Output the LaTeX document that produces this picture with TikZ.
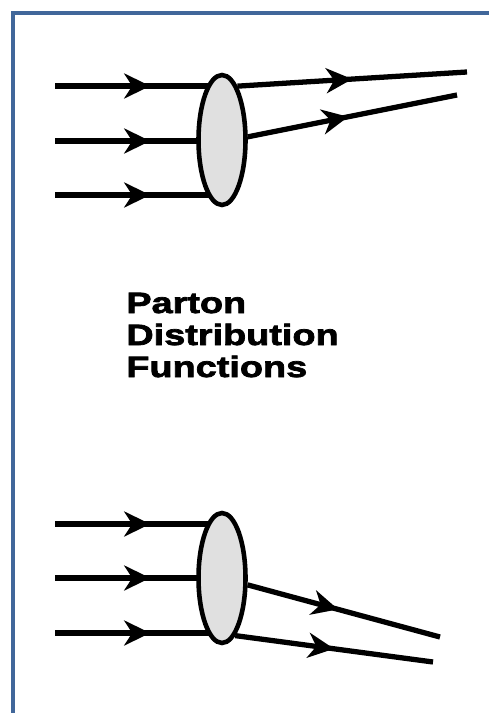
\documentclass[tikz,border=0pt]{standalone}
\usepackage{fontspec}
\newfontfamily\labelfont[FakeStretch=1.29, FakeBold=2.5]{Liberation Sans}
\usetikzlibrary{shapes.geometric, arrows.meta, decorations.markings, backgrounds}

\definecolor{framecol}{HTML}{41679A}
\definecolor{blobgray}{HTML}{E0E0E0}

\tikzset{
  parton/.style={line width=3pt, postaction={decorate},
    decoration={markings, mark=at position #1 with {\arrow{Stealth[length=0.52cm, width=0.5cm, inset=0.16cm]}}}},
  blob/.style={draw, ellipse, fill=blobgray, line width=2.6pt, inner sep=0pt,
    minimum width=0.94cm, minimum height=2.6cm},
  pdftext/.style={font=\labelfont\bfseries\fontsize{16.7}{18}\selectfont, anchor=base west, inner sep=0pt}
}

\begin{document}
\begin{tikzpicture}[x=0.02cm, y=-0.02cm]
  \useasboundingbox (0,0) rectangle (489,713);
  % Cornice
  \draw[framecol, line width=0.08cm] (13,13) rectangle (540,760);

  % Ellissi
  \node[blob] (top) at (222,140) {};
  \node[blob] (bot) at (222,578) {};

  % Estremi
  \coordinate (a1) at (55,86);
  \coordinate (a2) at (55,141);
  \coordinate (a3) at (55,195);
  \coordinate (b1) at (467,72);
  \coordinate (b2) at (457,95);
  \coordinate (c1) at (55,524);
  \coordinate (c2) at (55,578);
  \coordinate (c3) at (55,633);
  \coordinate (d1) at (440,637);
  \coordinate (d2) at (433,662);

  % Linee entranti
  \begin{scope}[on background layer]
    \draw[parton=0.57] (a1) -- (a1 -| top.center);
    \draw[parton=0.57] (a2) -- (a2 -| top.center);
    \draw[parton=0.57] (a3) -- (a3 -| top.center);
    \draw[parton=0.57] (c1) -- (c1 -| bot.center);
    \draw[parton=0.57] (c2) -- (c2 -| bot.center);
    \draw[parton=0.57] (c3) -- (c3 -| bot.center);
  \end{scope}

  % Linee uscenti
  \draw[parton=0.5] (top.74) -- (b1);
  \draw[parton=0.48] (top.7) -- (b2);
  \draw[parton=0.47] (bot.345) -- (d1);
  \draw[parton=0.5] (bot.283) -- (d2);

  % Testo
  \node[pdftext] (t1) at (126,313) {Parton};
  \node[pdftext] (t2) at (126,345) {Distribution};
  \node[pdftext] (t3) at (126,377) {Functions};
\end{tikzpicture}
\end{document}
